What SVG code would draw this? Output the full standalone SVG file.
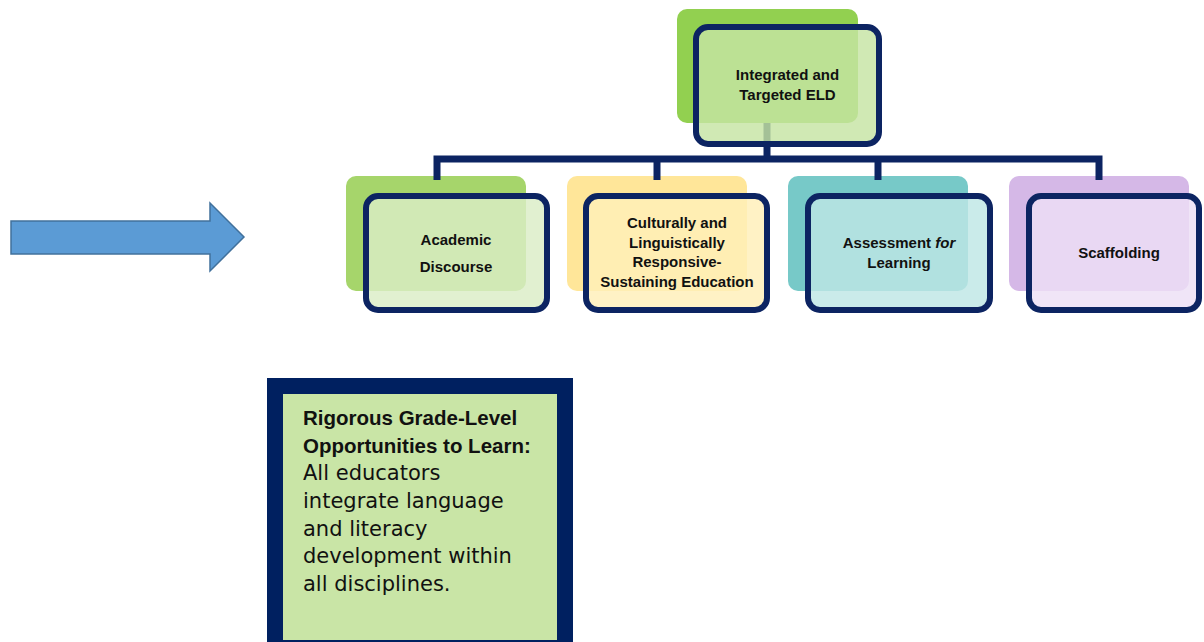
<svg xmlns="http://www.w3.org/2000/svg" width="1204" height="642" viewBox="0 0 1204 642">
<style>
.back{stroke:none}
.front{stroke:#0c2462;stroke-width:6;fill-opacity:0.82}
.lbl{font-family:"Liberation Sans",Arial,sans-serif;font-weight:bold;font-size:15px;fill:#111;text-anchor:middle}
.conn{stroke:#0c2462;stroke-width:7;fill:none}
.bt{font-family:"Liberation Sans",Arial,sans-serif;font-weight:bold;font-size:20.5px;fill:#111}
.rt{font-family:"DejaVu Sans",sans-serif;font-size:21px;fill:#111}
</style>
<rect width="1204" height="642" fill="#ffffff"/>
<g id="arrow">
<path d="M11,221 L210,221 L210,203 L244,237 L210,271 L210,254 L11,254 Z" fill="#5b9bd5" stroke="#41719c" stroke-width="1.5"/>
</g>
<g id="back-rects">
<rect class="back" x="677" y="9" width="181" height="114" rx="10" fill="#92d050"/>
<rect class="back" x="346" y="176" width="180" height="115" rx="10" fill="#a6d56b"/>
<rect class="back" x="567" y="176" width="180" height="115" rx="10" fill="#ffe699"/>
<rect class="back" x="788" y="176" width="180" height="115" rx="10" fill="#77c9c8"/>
<rect class="back" x="1009" y="176" width="180" height="115" rx="10" fill="#d5b8e7"/>
</g>
<g id="connectors">
<line class="conn" x1="767" y1="123" x2="767" y2="159"/>
<path class="conn" d="M437,180 V159 H1099 V180"/>
<line class="conn" x1="657" y1="159" x2="657" y2="180"/>
<line class="conn" x1="878" y1="159" x2="878" y2="180"/>
</g>
<g id="node-eld">
<rect class="front" x="696" y="27" width="183" height="117" rx="12" fill="#c6e4a3"/>
<text class="lbl" x="787.5" y="80">Integrated and</text>
<text class="lbl" x="787.5" y="100">Targeted ELD</text>
</g>
<g id="node-academic">
<rect class="front" x="366" y="196" width="181" height="114" rx="12" fill="#daedc6"/>
<text class="lbl" x="456" y="245">Academic</text>
<text class="lbl" x="456" y="272">Discourse</text>
</g>
<g id="node-culturally">
<rect class="front" x="586" y="196" width="181" height="114" rx="12" fill="#ffefb8"/>
<text class="lbl" x="677" y="228">Culturally and</text>
<text class="lbl" x="677" y="248">Linguistically</text>
<text class="lbl" x="677" y="267">Responsive-</text>
<text class="lbl" x="677" y="287">Sustaining Education</text>
</g>
<g id="node-assessment">
<rect class="front" x="808" y="196" width="182" height="114" rx="12" fill="#bee6e5"/>
<text class="lbl" x="899" y="248">Assessment <tspan font-style="italic">for</tspan></text>
<text class="lbl" x="899" y="268">Learning</text>
</g>
<g id="node-scaffolding">
<rect class="front" x="1029" y="196" width="170" height="114" rx="12" fill="#eddff5"/>
<text class="lbl" x="1119" y="258">Scaffolding</text>
</g>
<g id="node-rigorous">
<rect x="275" y="386" width="290" height="262" fill="#c9e5a6" stroke="#002060" stroke-width="16"/>
<text class="bt" x="303" y="425">Rigorous Grade-Level</text>
<text class="bt" x="303" y="453">Opportunities to Learn:</text>
<text class="rt" x="303" y="480">All educators</text>
<text class="rt" x="303" y="508">integrate language</text>
<text class="rt" x="303" y="536">and literacy</text>
<text class="rt" x="303" y="563">development within</text>
<text class="rt" x="303" y="591">all disciplines.</text>
</g>
</svg>
